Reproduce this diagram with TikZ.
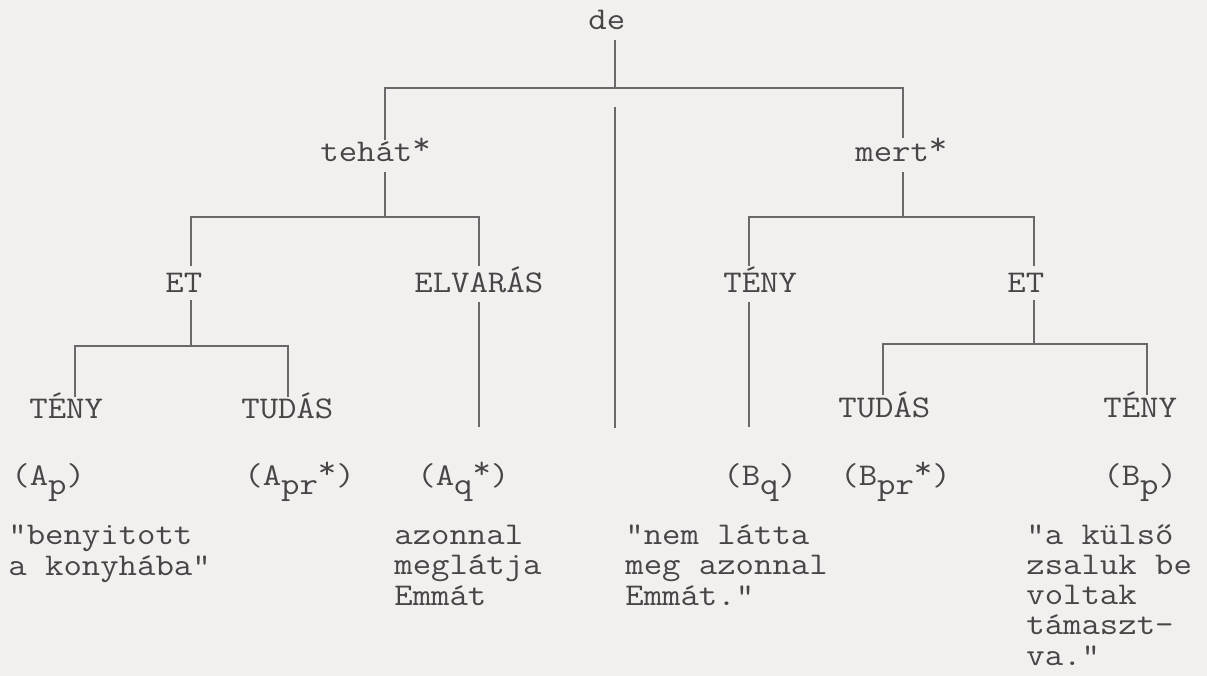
\documentclass[tikz,border=0pt]{standalone}
\usepackage{fontspec}
\setmainfont{Latin Modern Mono}[Ligatures=TeXOff, FakeStretch=1.13]
\definecolor{bg}{RGB}{244,239,239}
\definecolor{ink}{RGB}{70,70,70}
\definecolor{ln}{RGB}{105,105,105}
\newcommand\lowr[1]{\raisebox{-0.3em}{#1}}
\newcommand\hist{\raisebox{0.2em}{*}}
\begin{document}
\begin{tikzpicture}[x=0.02cm,y=-0.02cm,
  txt/.style={inner sep=0pt, anchor=base west, text=ink, font=\fontsize{18}{17.1}\selectfont},
  quotebox/.style={txt, align=left},
  conn/.style={draw=ln, line width=0.75pt}]
\fill[bg] (0,0) rectangle (1207,676);
\useasboundingbox (0,0) rectangle (1207,676);

% labels
\node[txt] (de) at (588,30) {de};
\node[txt] (teh) at (320,161) {tehát\hist};
\node[txt] (mert) at (855,161) {mert\hist};
\node[txt] (etL) at (165,292) {ET};
\node[txt] (elv) at (414,292) {ELVARÁS};
\node[txt] (tenyB) at (723,292) {TÉNY};
\node[txt] (etR) at (1007,292) {ET};
\node[txt] (tenyA) at (29,418) {TÉNY};
\node[txt] (tudA) at (241,418) {TUDÁS};
\node[txt] (tudB) at (838,417) {TUDÁS};
\node[txt] (tenyC) at (1103,417) {TÉNY};
\node[txt] (ap) at (11,485) {(A\lowr{p})};
\node[txt] (apr) at (244,485) {(A\lowr{pr}\hist)};
\node[txt] (aq) at (417,485) {(A\lowr{q}\hist)};
\node[txt] (bq) at (723,485) {(B\lowr{q})};
\node[txt] (bpr) at (840,485) {(B\lowr{pr}\hist)};
\node[txt] (bp) at (1103,485) {(B\lowr{p})};
% multi-line texts: base anchor is the baseline of the last line
\node[quotebox] (q1) at (8,575) {"benyitott\\a konyhába"};
\node[quotebox] (q2) at (394,605) {azonnal\\meglátja\\Emmát};
\node[quotebox] (q3) at (625,605) {"nem látta\\meg azonnal\\Emmát."};
\node[quotebox] (q4) at (1026,665) {"a külső\\zsaluk be\\voltak\\támaszt-\\va."};

% connector end points
\coordinate (de-b) at (615,40);
\coordinate (j0) at (615,88);
\coordinate (teh-t) at (385,140);
\coordinate (mert-t) at (903,138);
\coordinate (de-m) at (615,107);
\coordinate (q3-t) at (615,428);
\coordinate (teh-b) at (385,172);
\coordinate (j1) at (385,217);
\coordinate (etL-t) at (191,266);
\coordinate (elv-t) at (479,266);
\coordinate (mert-b) at (903,172);
\coordinate (j2) at (903,217);
\coordinate (tenyB-t) at (749,266);
\coordinate (etR-t) at (1034,266);
\coordinate (etL-b) at (191,300);
\coordinate (j3) at (191,346);
\coordinate (tenyA-t) at (75,397);
\coordinate (tudA-t) at (288,397);
\coordinate (elv-b) at (479,302);
\coordinate (aq-t) at (479,427);
\coordinate (tenyB-b) at (749,302);
\coordinate (bq-t) at (749,427);
\coordinate (etR-b) at (1034,300);
\coordinate (j4) at (1034,344);
\coordinate (tudB-t) at (883,395);
\coordinate (tenyC-t) at (1147,395);

% connectors
\draw[conn] (de-b) -- (j0);
\draw[conn] (teh-t) |- (j0) -| (mert-t);
\draw[conn] (de-m) -- (q3-t);
\draw[conn] (teh-b) -- (j1);
\draw[conn] (etL-t) |- (j1) -| (elv-t);
\draw[conn] (mert-b) -- (j2);
\draw[conn] (tenyB-t) |- (j2) -| (etR-t);
\draw[conn] (etL-b) -- (j3);
\draw[conn] (tenyA-t) |- (j3) -| (tudA-t);
\draw[conn] (elv-b) -- (aq-t);
\draw[conn] (tenyB-b) -- (bq-t);
\draw[conn] (etR-b) -- (j4);
\draw[conn] (tudB-t) |- (j4) -| (tenyC-t);
\end{tikzpicture}
\end{document}
